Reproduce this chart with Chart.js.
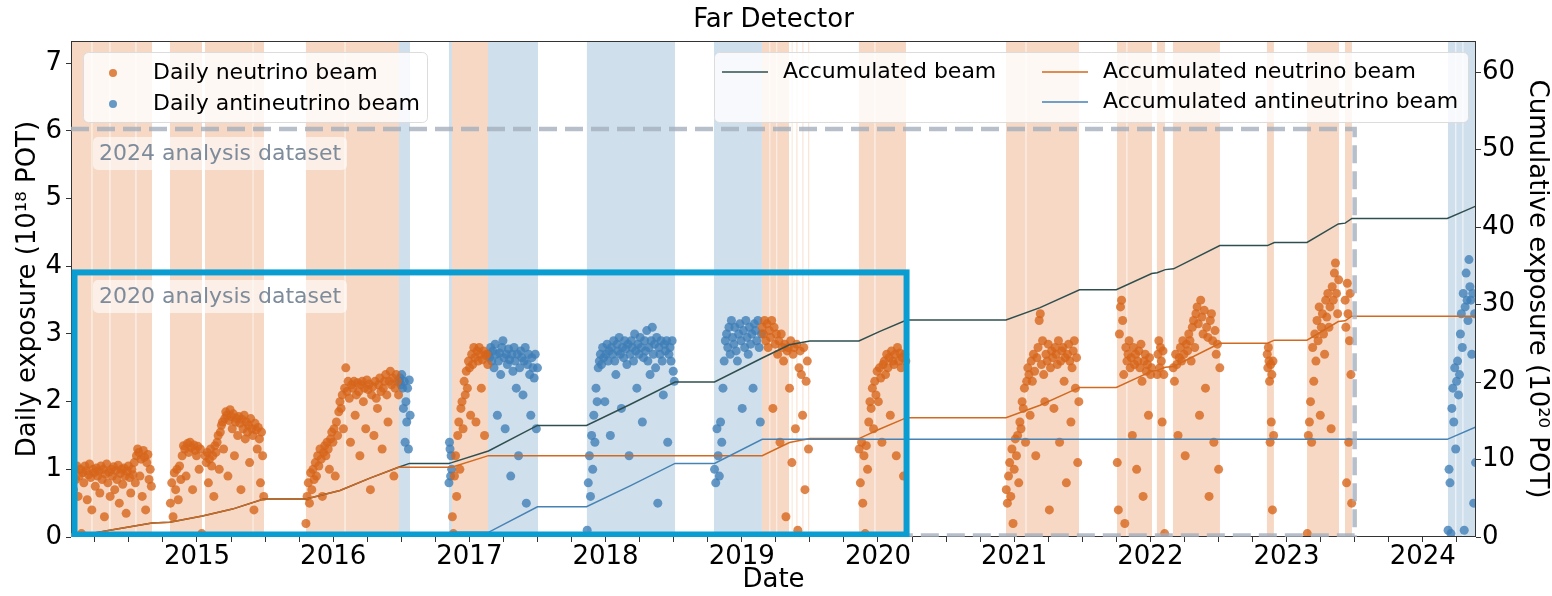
<!DOCTYPE html>
<html>
<head>
<meta charset="utf-8">
<script src="https://cdn.jsdelivr.net/npm/chart.js@4.4.1/dist/chart.umd.min.js"></script>
<style>
  body { margin: 0; background: #fff; }
</style>
</head>
<body>
<canvas id="myChart" width="1552" height="596"></canvas>
<script>
// axis ranges (decimal years / 1e18 POT / 1e20 POT)
const xMin = 2014.075, xMax = 2024.391;
const yDailyMax = 7.33, yCumMax = 64;

// beam periods (decimal years)
const nuBands = [[2014.075, 2014.226], [2014.232, 2014.358], [2014.364, 2014.549], [2014.555, 2014.670],
  [2014.802, 2015.037], [2015.059, 2015.409], [2015.414, 2015.492], [2015.800, 2016.084], [2016.090, 2016.483],
  [2016.872, 2017.137], [2019.148, 2019.204], [2019.209, 2019.255], [2019.260, 2019.347], [2019.367, 2019.372],
  [2019.402, 2019.408], [2019.446, 2019.452], [2019.489, 2019.495], [2019.860, 2019.975], [2019.981, 2020.206],
  [2020.940, 2021.084], [2021.090, 2021.476], [2021.755, 2021.825], [2021.831, 2022.012], [2022.048, 2022.107],
  [2022.166, 2022.511], [2022.856, 2022.907], [2023.150, 2023.385], [2023.429, 2023.480]];
const anuBands = [[2016.483, 2016.564], [2016.850, 2016.872], [2017.137, 2017.504], [2017.863, 2018.510],
  [2018.796, 2019.148], [2024.185, 2024.240], [2024.246, 2024.292], [2024.298, 2024.391]];

// daily neutrino beam exposure, one value per sampled day of each run
const nuRunDates = [[2014.085, 2014.665], [2014.805, 2015.035], [2015.060, 2015.490], [2015.800, 2016.480],
  [2016.875, 2017.135], [2019.150, 2019.490], [2019.862, 2020.205], [2020.942, 2021.475], [2021.757, 2022.010],
  [2022.050, 2022.105], [2022.168, 2022.510], [2022.858, 2022.905], [2023.152, 2023.383], [2023.430, 2023.478]];
const nu2014 = [0.95,0.7,1.0,0.85,1.05,0.6,0.9,1.0,0.05,0.95,0.8,1.05,0.98,0.55,0.92,1.08,0.88,0.4,1.0,0.95,0.75,1.02,0.9,0.97,0.65,1.05,0.85,1.0,0.3,0.93,1.08,0.8,0.96,0.6,1.0,0.9,1.04,0.7,0.98,0.85,1.06,0.5,0.94,1.0,0.78,1.02,0.9,0.35,0.97,1.05,0.88,0.65,1.0,0.92,1.1,0.8,1.2,1.3,1.25,0.9,1.15,0.6,1.28,1.18,0.4,1.1,1.22,0.85,1.0,0.75];
const nu2014b = [0.5,0.8,0.3,0.95,0.7,1.0,0.55,1.05,0.85,1.2,1.35,1.3,0.9,1.38,1.25,1.4,1.32,0.7,1.36,1.28,1.2,1.34,1.0,1.3,0.05];
const nu2015 = [1.2,1.1,1.25,0.8,1.15,1.3,1.05,1.2,0.6,1.35,1.25,1.4,1.5,1.0,1.55,1.65,1.7,1.3,1.75,1.85,1.8,0.9,1.72,1.88,1.78,1.6,1.82,1.2,1.7,1.75,1.5,1.78,1.68,0.7,1.74,1.6,1.8,1.45,1.7,1.55,1.65,1.1,1.75,1.6,1.5,0.4,1.68,1.58,1.3,1.62,1.45,0.8,1.55,1.2,0.6];
const nu2016 = [0.2,0.6,0.8,0.5,0.95,0.7,1.0,0.85,1.1,0.9,1.2,1.05,1.3,1.15,0.6,1.25,1.35,1.2,1.4,1.3,1.0,1.45,1.55,1.4,1.6,0.9,1.7,1.5,1.85,2.0,1.9,2.1,1.6,2.2,2.5,2.15,2.3,2.05,1.4,2.25,2.2,2.3,1.8,2.1,2.28,2.15,1.2,2.25,2.3,2.0,2.2,1.6,2.32,2.18,2.26,0.7,2.1,2.22,1.5,2.3,2.05,1.9,2.25,2.35,2.15,1.3,2.2,2.3,2.4,2.1,1.7,2.3,2.45,2.25,2.35,0.9,2.2,2.4,2.3,2.1];
const nu2017 = [0.3,0.05,0.9,1.2,0.6,1.5,1.7,1.0,1.9,2.0,1.6,2.3,2.1,2.45,2.2,2.6,2.5,1.8,2.7,2.55,2.8,2.65,1.7,2.75,2.6,2.8,2.7,2.2,2.62,2.75,1.5,2.68,2.7,2.55];
const nu2019 = [3.1,3.0,3.2,2.9,3.15,2.8,3.05,2.95,3.2,1.9,3.1,2.85,3.0,2.7,2.9,1.4,3.0,2.8,2.6,2.85,0.3,2.75,2.8,2.2,2.9,1.1,2.7,2.8,1.6,2.85,0.1,2.5,2.75,2.4,1.8,2.8,0.7,2.3,2.6,1.3];
const nu2020 = [1.3,0.8,1.4,0.5,1.2,0.05,1.35,1.0,1.7,2.0,1.9,2.2,1.6,2.3,2.1,2.45,2.0,2.5,2.35,1.4,2.55,2.6,2.4,2.7,2.5,2.65,1.8,2.75,2.6,2.55,2.7,1.2,2.8,2.6,2.72,2.5,2.65,0.9,2.7,2.6];
const nu2021 = [0.7,0.5,0.9,1.1,0.6,1.3,0.2,1.0,1.45,1.2,1.5,0.8,1.7,1.6,2.0,1.9,2.2,1.4,2.3,2.5,2.4,1.8,2.6,2.3,2.7,2.45,1.2,2.65,2.8,3.2,3.3,2.55,2.9,2.4,2.0,2.7,2.6,2.85,0.4,2.5,2.75,2.65,1.9,2.8,2.7,2.55,2.9,1.4,2.6,2.75,2.8,2.3,2.65,0.8,2.7,2.85,2.6,1.7,2.5,2.75,2.9,2.2,2.65,1.1,2.0];
const nu2021b = [1.1,0.4,3.0,3.4,3.5,3.2,2.4,0.2,2.8,2.6,2.7,2.9,2.5,2.65,1.5,2.8,2.55,2.7,1.0,2.6,2.75,2.5,2.85,2.3,0.6,2.6,2.7,2.45,2.55,1.8,2.65,2.4,2.5];
const nu2022a = [2.4,2.7,2.9,2.5,2.8,2.6,1.7,2.75,2.4,0.05];
const nu2022 = [2.5,2.3,2.7,2.55,1.5,2.65,2.8,2.6,2.9,2.7,1.2,2.85,2.75,3.0,2.9,2.6,3.1,3.2,2.8,3.3,3.4,3.15,1.8,3.5,3.25,3.0,3.35,2.2,3.1,2.95,0.6,3.2,3.3,2.9,1.4,3.05,2.7,2.85,1.0,2.5];
const nu2022b = [2.7,2.5,2.8,2.6,2.3,1.4,2.55,1.7,2.4,0.4,2.6,1.5];
const nu2023 = [0.05,1.5,1.7,2.0,1.4,2.8,2.3,3.0,2.6,3.2,2.9,3.4,1.8,3.1,3.3,3.0,2.7,3.5,3.25,3.6,3.1,3.4,1.6,3.7,3.5,3.9,4.05,3.6,3.3,3.8];
const nu2023b = [3.5,3.1,0.8,3.75,3.3,1.4,2.9,3.6,2.4,0.5];
const nuRunValues = [nu2014, nu2014b, nu2015, nu2016, nu2017, nu2019, nu2020, nu2021, nu2021b,
  nu2022a, nu2022, nu2022b, nu2023, nu2023b];

// daily antineutrino beam exposure
const anuRunDates = [[2016.485, 2016.565], [2016.850, 2016.870], [2017.140, 2017.500], [2017.865, 2018.505],
  [2018.800, 2019.145], [2024.186, 2024.388]];
const anu2016 = [2.3,2.35,2.25,2.4,2.2,1.9,2.3,1.4,2.0,1.7,2.2,1.3,2.32,1.8];
const anu2016b = [0.8,1.4,1.3,0.9,1.2,1.0];
const anu2017 = [2.7,2.65,2.8,2.6,2.75,2.5,2.85,2.7,1.8,2.6,2.72,2.4,2.8,2.9,2.65,1.6,2.7,2.55,2.78,2.62,0.9,2.7,2.45,2.8,2.6,2.2,2.7,1.2,2.5,2.75,2.65,2.1,2.6,2.8,0.5,2.55,2.7,2.4,1.8,2.65,2.5,2.35,2.7,1.6,2.5];
const anu2018 = [0.1,0.8,1.2,0.6,1.5,1.0,1.8,1.4,2.2,2.0,2.5,2.6,2.7,2.55,2.8,2.65,2.0,2.7,2.85,2.6,2.75,1.5,2.8,2.7,2.9,2.6,2.4,2.85,2.75,2.95,2.7,1.9,2.8,2.65,2.9,2.78,2.55,2.85,1.2,2.7,2.9,2.8,2.6,3.0,2.75,2.2,2.85,2.7,2.95,2.8,1.7,2.65,2.9,2.75,3.05,2.6,2.8,2.4,2.9,3.1,2.7,2.85,2.5,2.95,0.5,2.8,2.7,2.9,2.6,2.1,2.85,2.75,2.9,1.4,2.7,2.8,2.6,2.9,2.45,2.3];
const anu2019 = [1.0,0.8,1.6,1.2,0.9,1.7,1.4,2.2,2.6,2.9,3.0,2.8,3.1,2.7,3.2,2.95,2.85,3.1,2.75,2.6,3.0,3.15,2.9,1.9,3.05,2.8,3.2,2.95,2.7,3.1,2.85,3.0,2.2,3.15,3.05,2.9,3.2,2.8,1.7,3.0];
const anu2024 = [0.1,1.0,0.8,0.05,1.9,2.2,1.7,2.5,1.3,2.3,2.6,2.1,2.4,3.0,3.3,2.8,3.6,0.1,3.4,3.9,3.5,3.2,4.1,3.7,3.5,2.7,3.6,0.5,3.3,1.1];
const anuRunValues = [anu2016, anu2016b, anu2017, anu2018, anu2019, anu2024];

// accumulated exposure (1e20 POT)
const cumDates = [2014.08, 2014.37, 2014.67, 2014.80, 2015.04, 2015.26, 2015.49, 2015.80, 2016.05, 2016.27, 2016.48,
  2016.56, 2016.85, 2016.87, 2017.14, 2017.50, 2017.86, 2018.18, 2018.51, 2018.80, 2019.15, 2019.35, 2019.50,
  2019.86, 2020.01, 2020.21, 2020.94, 2021.19, 2021.48, 2021.75, 2022.01, 2022.05, 2022.11, 2022.17, 2022.51,
  2022.86, 2022.91, 2023.15, 2023.38, 2023.43, 2023.48, 2024.18, 2024.39];
const cumNu = [0, 0.9, 1.8, 1.9, 2.7, 3.6, 4.9, 4.9, 6.0, 7.6, 9.0,
  9.0, 9.0, 9.0, 10.5, 10.5, 10.5, 10.5, 10.5, 10.5, 10.5, 12.2, 12.7,
  12.7, 13.9, 15.4, 15.4, 17.0, 19.3, 19.3, 21.4, 21.5, 21.9, 22.0, 25.0,
  25.0, 25.4, 25.4, 27.8, 27.9, 28.5, 28.5, 28.5];
const cumAnu = [0, 0, 0, 0, 0, 0, 0, 0, 0, 0, 0,
  0.5, 0.5, 0.6, 0.6, 3.9, 3.9, 6.6, 9.5, 9.5, 12.6, 12.6, 12.6,
  12.6, 12.6, 12.6, 12.6, 12.6, 12.6, 12.6, 12.6, 12.6, 12.6, 12.6, 12.6,
  12.6, 12.6, 12.6, 12.6, 12.6, 12.6, 12.6, 14.2];
const cumTotal = [0, 0.9, 1.8, 1.9, 2.7, 3.6, 4.9, 4.9, 6.0, 7.6, 9.0,
  9.5, 9.5, 9.6, 11.1, 14.4, 14.4, 17.1, 20.0, 20.0, 23.1, 24.8, 25.3,
  25.3, 26.5, 28.0, 28.0, 29.6, 31.9, 31.9, 34.0, 34.1, 34.5, 34.6, 37.6,
  37.6, 38.0, 38.0, 40.4, 40.5, 41.1, 41.1, 42.7];

// analysis dataset boxes: [end date, top daily exposure]
const box2024 = [2023.50, 6.03];
const box2020 = [2020.21, 3.91];

const ORANGE = 'rgba(214,100,25,0.78)';
const BLUE = 'rgba(62,125,182,0.78)';
const ORANGE_LINE = '#d2691e';
const BLUE_LINE = '#4682b4';
const DARK_LINE = '#2f4f4f';

function runPoints(dates, runs) {
  const pts = [];
  runs.forEach((vals, k) => {
    const [s, e] = dates[k];
    const step = (e - s) / (vals.length - 1);
    vals.forEach((v, i) => pts.push({ x: s + i * step, y: v }));
  });
  return pts;
}
const cumLine = vals => cumDates.map((d, i) => ({ x: d, y: vals[i] }));

function roundBox(ctx, x, y, w, h, r) {
  ctx.beginPath();
  ctx.moveTo(x + r, y);
  ctx.arcTo(x + w, y, x + w, y + h, r);
  ctx.arcTo(x + w, y + h, x, y + h, r);
  ctx.arcTo(x, y + h, x, y, r);
  ctx.arcTo(x, y, x + w, y, r);
  ctx.closePath();
}

// background shading for beam periods
const bandPlugin = {
  id: 'bands',
  beforeDatasetsDraw(chart) {
    const { ctx, chartArea: a, scales: { x } } = chart;
    ctx.save();
    ctx.beginPath();
    ctx.rect(a.left, a.top, a.right - a.left, a.bottom - a.top);
    ctx.clip();
    const fill = (list, color) => {
      ctx.fillStyle = color;
      list.forEach(([s, e]) => {
        const x0 = x.getPixelForValue(s), x1 = x.getPixelForValue(e);
        ctx.fillRect(x0, a.top, x1 - x0, a.bottom - a.top);
      });
    };
    fill(nuBands, '#f6d8c4');
    fill(anuBands, '#cfdfec');
    ctx.restore();
  }
};

// frame, dataset boxes, labels, legends, title
const overlayPlugin = {
  id: 'overlay',
  afterDatasetsDraw(chart) {
    const { ctx, chartArea: a, scales: { x, y } } = chart;
    ctx.save();
    ctx.strokeStyle = '#333';
    ctx.lineWidth = 1;
    ctx.strokeRect(a.left + 0.5, a.top + 0.5, a.right - a.left - 1, a.bottom - a.top - 1);

    ctx.beginPath();
    ctx.rect(a.left, a.top, a.right - a.left, a.bottom - a.top);
    ctx.clip();

    // 2024 dataset (dashed)
    const xr = x.getPixelForValue(box2024[0]), yt = y.getPixelForValue(box2024[1]), y0 = y.getPixelForValue(0);
    ctx.strokeStyle = 'rgba(165,175,190,0.8)';
    ctx.lineWidth = 4.5;
    ctx.setLineDash([18, 8]);
    ctx.beginPath();
    ctx.moveTo(a.left, yt);
    ctx.lineTo(xr, yt);
    ctx.lineTo(xr, y0 - 1.5);
    ctx.lineTo(a.left, y0 - 1.5);
    ctx.stroke();
    ctx.setLineDash([]);

    // 2020 dataset (solid)
    const xr2 = x.getPixelForValue(box2020[0]), yt2 = y.getPixelForValue(box2020[1]);
    ctx.strokeStyle = '#0a9dd2';
    ctx.lineWidth = 6;
    ctx.strokeRect(a.left + 3.5, yt2, xr2 - a.left - 3.5, y0 - 2.5 - yt2);
    ctx.restore();
  },
  afterDraw(chart) {
    const { ctx, chartArea: a } = chart;
    ctx.save();
    ctx.font = '22px "DejaVu Sans"';
    ctx.textBaseline = 'middle';

    // dataset labels
    [['2024 analysis dataset', 137], ['2020 analysis dataset', 280]].forEach(([t, top]) => {
      ctx.fillStyle = 'rgba(255,255,255,0.6)';
      roundBox(ctx, 93, top, 254, 33, 5);
      ctx.fill();
      ctx.fillStyle = '#7d8b9b';
      ctx.fillText(t, 99, top + 17);
    });

    // left legend
    ctx.fillStyle = 'rgba(255,255,255,0.82)';
    ctx.strokeStyle = '#dcdcdc';
    ctx.lineWidth = 1;
    roundBox(ctx, 83.5, 52.5, 344, 70, 5);
    ctx.fill(); ctx.stroke();
    [[ORANGE, 'Daily neutrino beam', 73], [BLUE, 'Daily antineutrino beam', 104]].forEach(([c, t, yy]) => {
      ctx.fillStyle = c;
      ctx.beginPath(); ctx.arc(113, yy, 4, 0, Math.PI * 2); ctx.fill();
      ctx.fillStyle = '#000';
      ctx.fillText(t, 153, yy);
    });

    // right legend
    ctx.fillStyle = 'rgba(255,255,255,0.82)';
    roundBox(ctx, 714.5, 52.5, 754, 70, 5);
    ctx.fill(); ctx.stroke();
    [[DARK_LINE, 'Accumulated beam', 722, 72], [ORANGE_LINE, 'Accumulated neutrino beam', 1042, 72],
     [BLUE_LINE, 'Accumulated antineutrino beam', 1042, 102]].forEach(([c, t, xx, yy]) => {
      ctx.strokeStyle = c;
      ctx.lineWidth = 1.5;
      ctx.beginPath(); ctx.moveTo(xx, yy); ctx.lineTo(xx + 46, yy); ctx.stroke();
      ctx.fillStyle = '#000';
      ctx.fillText(t, xx + 61, yy);
    });

    // title
    ctx.font = '26px "DejaVu Sans"';
    ctx.textAlign = 'center';
    ctx.fillStyle = '#000';
    ctx.fillText('Far Detector', (a.left + a.right) / 2, 20);
    ctx.restore();
  }
};

Chart.defaults.font.family = '"DejaVu Sans", sans-serif';
Chart.defaults.color = '#000';

const ctx = document.getElementById('myChart').getContext('2d');
const myChart = new Chart(ctx, {
  type: 'scatter',
  data: {
    datasets: [
      { label: 'Daily neutrino beam', data: runPoints(nuRunDates, nuRunValues), yAxisID: 'y',
        backgroundColor: ORANGE, borderWidth: 0, pointRadius: 4.5, order: 3 },
      { label: 'Daily antineutrino beam', data: runPoints(anuRunDates, anuRunValues), yAxisID: 'y',
        backgroundColor: BLUE, borderWidth: 0, pointRadius: 4.5, order: 4 },
      { label: 'Accumulated beam', data: cumLine(cumTotal), yAxisID: 'y2', showLine: true,
        borderColor: DARK_LINE, borderWidth: 1.5, pointRadius: 0, order: 2 },
      { label: 'Accumulated neutrino beam', data: cumLine(cumNu), yAxisID: 'y2', showLine: true,
        borderColor: ORANGE_LINE, borderWidth: 1.5, pointRadius: 0, order: 1 },
      { label: 'Accumulated antineutrino beam', data: cumLine(cumAnu), yAxisID: 'y2', showLine: true,
        borderColor: BLUE_LINE, borderWidth: 1.5, pointRadius: 0, order: 0 }
    ]
  },
  options: {
    responsive: false,
    animation: false,
    layout: { padding: { top: 41, left: 0, right: 0, bottom: 0 } },
    plugins: { legend: { display: false }, tooltip: { enabled: false }, title: { display: false } },
    scales: {
      x: {
        type: 'linear', min: xMin, max: xMax,
        afterFit(s) { s.height = 59; },
        border: { display: false },
        grid: { drawOnChartArea: false, drawTicks: true, tickLength: 5, color: '#333' },
        ticks: {
          stepSize: 0.25, includeBounds: false, autoSkip: false, maxRotation: 0, padding: 0,
          font: { size: 26 },
          callback: v => Math.abs(v - Math.round(v)) < 1e-6 ? String(Math.round(v)) : ''
        },
        title: { display: true, text: 'Date', font: { size: 26 }, padding: { top: 0, bottom: 0 } }
      },
      y: {
        position: 'left', min: 0, max: yDailyMax,
        afterFit(s) { s.width = 71; },
        border: { display: false },
        grid: { drawOnChartArea: false, tickLength: 5, color: '#333' },
        ticks: { stepSize: 1, includeBounds: false, padding: 4, font: { size: 26 } },
        title: { display: true, text: 'Daily exposure (10¹⁸ POT)', font: { size: 26 }, padding: { top: 13, bottom: 0 } }
      },
      y2: {
        position: 'right', min: 0, max: yCumMax,
        afterFit(s) { s.width = 76; },
        border: { display: false },
        grid: { drawOnChartArea: false, tickLength: 5, color: '#333' },
        ticks: { stepSize: 10, includeBounds: false, padding: 1, font: { size: 26 } },
        title: { display: true, text: 'Cumulative exposure (10²⁰ POT)', font: { size: 26 }, padding: { top: 0, bottom: 0 } }
      }
    }
  },
  plugins: [bandPlugin, overlayPlugin]
});
</script>
</body>
</html>
